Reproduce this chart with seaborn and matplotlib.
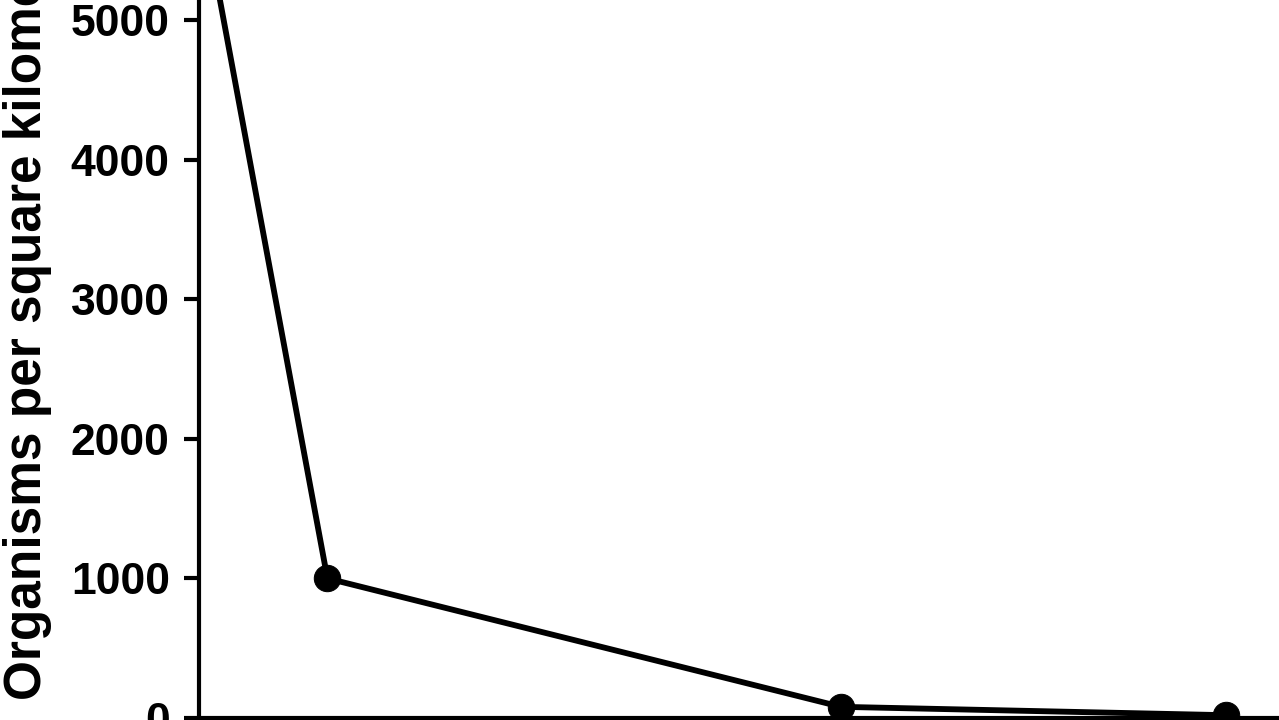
import matplotlib
matplotlib.use("Agg")
import matplotlib.pyplot as plt
import seaborn as sns
import pandas as pd

# values
distance = [0.1, 1.1, 5.5, 8.8]
organisms = [5500, 1000, 80, 20]
yticks = [0, 1000, 2000, 3000, 4000, 5000]

df = pd.DataFrame({"distance": distance, "organisms": organisms})

sns.set_style("ticks")
plt.rcParams["font.family"] = ["Liberation Sans", "DejaVu Sans"]
plt.rcParams["font.weight"] = "bold"

fig = plt.figure(figsize=(12.79, 7.2), dpi=100)
# axes runs off the top and right edge of the picture, like the cropped original
W, H = 1279, 720
ax = fig.add_axes([199 / W, 2 / H, 1109 / W, 726 / H])

sns.lineplot(data=df, x="distance", y="organisms", ax=ax, color="black",
             linewidth=4.2, marker="o", markersize=19, markeredgecolor="black")

ax.set_xlim(0, 9.5)
ax.set_ylim(0, 5200)
ax.set_yticks(yticks)
ax.set_yticklabels([str(t) for t in yticks], fontweight="bold")
ax.set_xticks([])
ax.set_xlabel("")
ax.set_ylabel("Organisms per square kilometer", fontsize=37, fontweight="bold", color="black")
ax.yaxis.set_label_coords(-0.1326, 0.0248)
ax.yaxis.label.set_horizontalalignment("left")

ax.tick_params(axis="y", labelsize=32, length=11, width=3, pad=10, colors="black")
for s in ["top", "right"]:
    ax.spines[s].set_visible(False)
for s in ["left", "bottom"]:
    ax.spines[s].set_linewidth(3)
    ax.spines[s].set_color("black")

fig.savefig("out.png", dpi=100, facecolor="white")
